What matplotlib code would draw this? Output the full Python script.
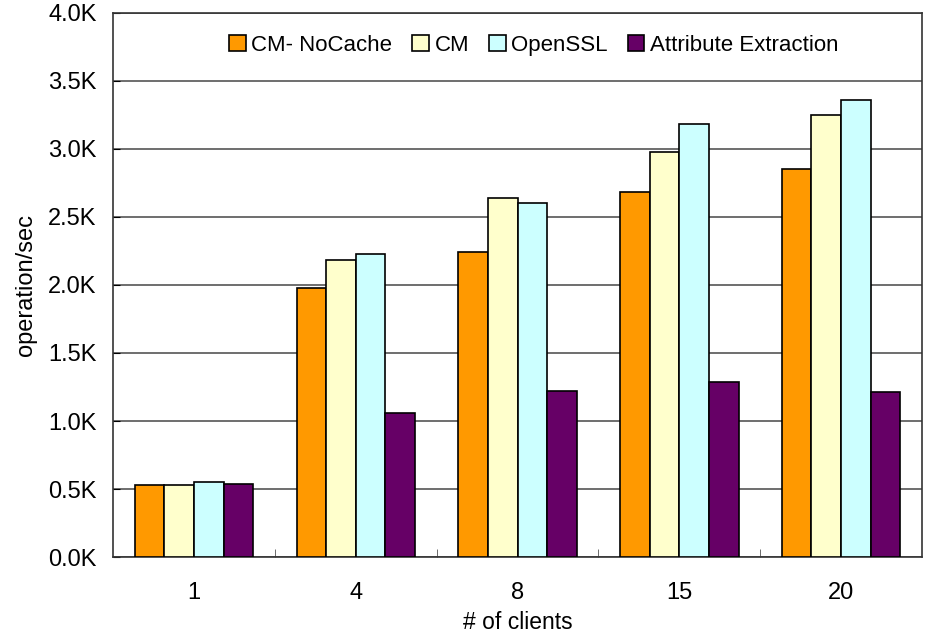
import matplotlib
matplotlib.use("Agg")
import matplotlib.pyplot as plt
import numpy as np

plt.rcParams['font.family'] = ['Liberation Sans', 'DejaVu Sans']

# Data (values in K operations/sec)
clients = ["1", "4", "8", "15", "20"]
series_names = ["CM- NoCache", "CM", "OpenSSL", "Attribute Extraction"]
cm_nocache = [0.53, 1.98, 2.24, 2.68, 2.85]
cm = [0.53, 2.18, 2.64, 2.98, 3.25]
openssl = [0.55, 2.23, 2.60, 3.18, 3.36]
attr_extraction = [0.535, 1.06, 1.22, 1.29, 1.21]
colors = ["#FF9900", "#FFFFCC", "#CCFFFF", "#660066"]

fig = plt.figure(figsize=(9.28, 6.36), dpi=100)
ax = fig.add_axes([0.122, 0.124, 0.8715, 0.856])

x = np.arange(len(clients))
width = 0.183
all_series = [cm_nocache, cm, openssl, attr_extraction]
for i, (vals, name, col) in enumerate(zip(all_series, series_names, colors)):
    ax.bar(x + (i - 1.5) * width, vals, width, color=col, edgecolor='black',
           linewidth=1.2, label=name, zorder=3)

ax.set_xlim(-0.5, len(clients) - 0.5)
ax.set_ylim(0, 4.0)
yticks = np.arange(0, 4.01, 0.5)
ax.set_yticks(yticks)
ax.set_yticklabels([f"{v:.1f}K" for v in yticks], fontsize=17)
ax.yaxis.grid(True, color='#555555', linewidth=1.2, zorder=0)

ax.set_xticks(x)
ax.set_xticklabels(clients, fontsize=17)
ax.tick_params(axis='x', which='major', length=0, pad=18)
ax.set_xticks(np.arange(0.5, len(clients) - 0.5, 1), minor=True)
ax.tick_params(axis='x', which='minor', direction='in', length=6, color='#555555')
ax.tick_params(axis='y', direction='in', length=5, pad=12)

for s in ax.spines.values():
    s.set_color('#333333')
    s.set_linewidth(1.2)

ax.set_ylabel("operation/sec", fontsize=17, labelpad=8)
ax.set_xlabel("# of clients", fontsize=16.5, labelpad=5)

ax.legend(loc='center', bbox_to_anchor=(0.52, 0.94), ncol=4, frameon=False,
          fontsize=16, handlelength=0.75, handleheight=0.75, handletextpad=0.25,
          columnspacing=0.9)

fig.savefig("out.png", dpi=100, facecolor='white')
